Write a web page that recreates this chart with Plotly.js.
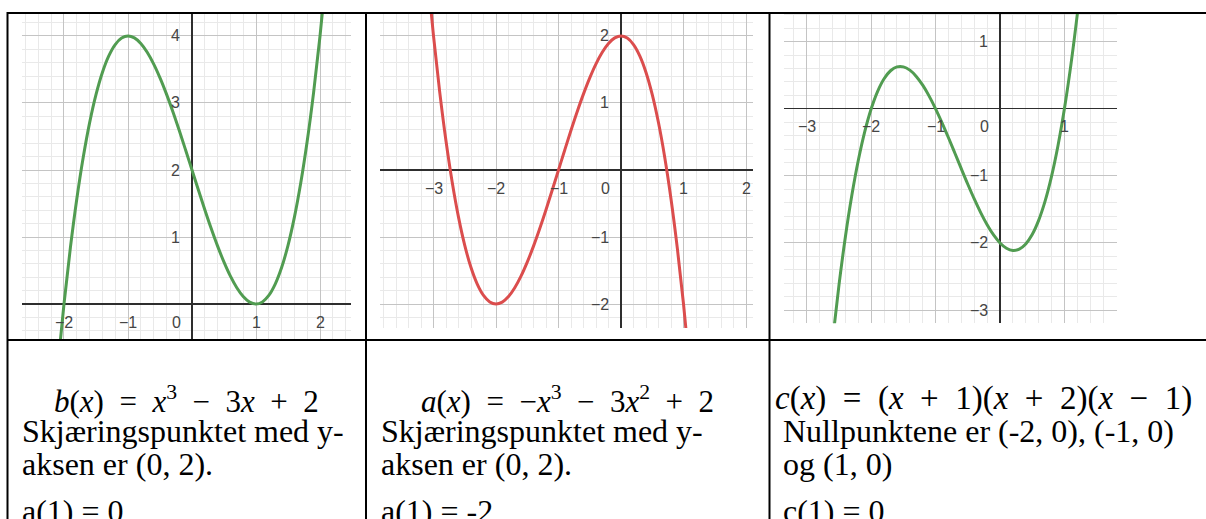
<!DOCTYPE html>
<html>
<head>
<meta charset="utf-8">
<script src="https://cdn.plot.ly/plotly-3.0.1.min.js"></script>
<style>
  html, body { margin: 0; padding: 0; background: #ffffff; }
  #chart { width: 1206px; height: 519px; }
</style>
</head>
<body>
<div id="chart"></div>
<script>
// ---------- data ----------
const bX = [-2.2,-2.1,-2.0,-1.9,-1.8,-1.7,-1.6,-1.5,-1.4,-1.3,-1.2,-1.1,-1.0,-0.9,-0.8,-0.7,-0.6,-0.5,-0.4,-0.3,-0.2,-0.1,0,0.1,0.2,0.3,0.4,0.5,0.6,0.7,0.8,0.9,1.0,1.1,1.2,1.3,1.4,1.5,1.6,1.7,1.8,1.9,2.0,2.1,2.2];
const bY = [-2.048,-0.961,0,0.841,1.568,2.187,2.704,3.125,3.456,3.703,3.872,3.969,4,3.971,3.888,3.757,3.584,3.375,3.136,2.873,2.592,2.299,2,1.701,1.408,1.127,0.864,0.625,0.416,0.243,0.112,0.029,0,0.031,0.128,0.297,0.544,0.875,1.296,1.813,2.432,3.159,4,4.961,6.048];

const aX = [-3.2,-3.1,-3.0,-2.9,-2.8,-2.7,-2.6,-2.5,-2.4,-2.3,-2.2,-2.1,-2.0,-1.9,-1.8,-1.7,-1.6,-1.5,-1.4,-1.3,-1.2,-1.1,-1.0,-0.9,-0.8,-0.7,-0.6,-0.5,-0.4,-0.3,-0.2,-0.1,0,0.1,0.2,0.3,0.4,0.5,0.6,0.7,0.8,0.9,1.0,1.1,1.2];
const aY = [4.048,2.961,2,1.159,0.432,-0.187,-0.704,-1.125,-1.456,-1.703,-1.872,-1.969,-2,-1.971,-1.888,-1.757,-1.584,-1.375,-1.136,-0.873,-0.592,-0.299,0,0.299,0.592,0.873,1.136,1.375,1.584,1.757,1.888,1.971,2,1.969,1.872,1.703,1.456,1.125,0.704,0.187,-0.432,-1.159,-2,-2.961,-4.048];

const cX = [-2.8,-2.7,-2.6,-2.5,-2.4,-2.3,-2.2,-2.1,-2.0,-1.9,-1.8,-1.7,-1.6,-1.5,-1.4,-1.3,-1.2,-1.1,-1.0,-0.9,-0.8,-0.7,-0.6,-0.5,-0.4,-0.3,-0.2,-0.1,0,0.1,0.2,0.3,0.4,0.5,0.6,0.7,0.8,0.9,1.0,1.1,1.2,1.3];
const cY = [-5.472,-4.403,-3.456,-2.625,-1.904,-1.287,-0.768,-0.341,0,0.261,0.448,0.567,0.624,0.625,0.576,0.483,0.352,0.189,0,-0.209,-0.432,-0.663,-0.896,-1.125,-1.344,-1.547,-1.728,-1.881,-2,-2.079,-2.112,-2.093,-2.016,-1.875,-1.664,-1.377,-1.008,-0.551,0,0.651,1.408,2.277];

const bTicksX = [-2, -1, 0, 1, 2];
const bTicksY = [1, 2, 3, 4];
const aTicksX = [-3, -2, -1, 0, 1, 2];
const aTicksY = [-2, -1, 1, 2];
const cTicksX = [-3, -2, -1, 0, 1];
const cTicksY = [-3, -2, -1, 1];

const bFormula = "<i>b</i>(<i>x</i>)\u2002=\u2002<i>x</i><sup>3</sup>\u2002\u2212\u20023<i>x</i>\u2002+\u20022";
const aFormula = "<i>a</i>(<i>x</i>)\u2002=\u2002\u2212<i>x</i><sup>3</sup>\u2002\u2212\u20023<i>x</i><sup>2</sup>\u2002+\u20022";
const cFormula = "<i>c</i>(<i>x</i>)\u2002=\u2002(<i>x</i>\u2002+\u20021)(<i>x</i>\u2002+\u20022)(<i>x</i>\u2002\u2212\u20021)";
const bLines = ["Skjæringspunktet med y-", "aksen er (0, 2).", "a(1) = 0"];
const aLines = ["Skjæringspunktet med y-", "aksen er (0, 2).", "a(1) = -2"];
const cLines = ["Nullpunktene er (-2, 0), (-1, 0)", "og (1, 0)", "c(1) = 0"];

// ---------- layout helpers ----------
const W = 1206, H = 519;
const fx = p => p / W;
const fy = p => 1 - p / H;

const GREEN = "#519c51";
const RED = "#db4d4d";

function axis(dom, rng, anchor) {
  return {
    domain: dom, range: rng, anchor: anchor,
    tick0: 0, dtick: 1, showgrid: true, gridcolor: "#c4c4c4", gridwidth: 1,
    minor: { dtick: 0.2, tick0: 0, showgrid: true, gridcolor: "#e9e9e9", gridwidth: 1, ticks: "" },
    zeroline: true, zerolinecolor: "#2e2e2e", zerolinewidth: 1.4,
    showticklabels: false, ticks: "", showline: false, fixedrange: true
  };
}

const traces = [
  { x: bX, y: bY, xaxis: "x", yaxis: "y", mode: "lines", line: { color: GREEN, width: 3, shape: "spline" }, hoverinfo: "skip" },
  { x: aX, y: aY, xaxis: "x2", yaxis: "y2", mode: "lines", line: { color: RED, width: 3, shape: "spline" }, hoverinfo: "skip" },
  { x: cX, y: cY, xaxis: "x3", yaxis: "y3", mode: "lines", line: { color: GREEN, width: 3, shape: "spline" }, hoverinfo: "skip" }
];

const annotations = [];
const tickFont = { family: "Liberation Sans, Arial, sans-serif", size: 16, color: "#454545" };
const lab = v => String(v).replace("-", "\u2212");
function tickLabels(xs, ys, xr, yr) {
  xs.forEach(v => {
    if (v === 0) {
      annotations.push({ x: 0, y: 0, xref: xr, yref: yr, text: "0", showarrow: false, xanchor: "right", yanchor: "middle", xshift: -10, yshift: -18, font: tickFont, borderpad: 0 });
    } else {
      annotations.push({ x: v, y: 0, xref: xr, yref: yr, text: lab(v), showarrow: false, xanchor: "center", yanchor: "middle", yshift: -18, font: tickFont, borderpad: 0 });
    }
  });
  ys.forEach(v => {
    annotations.push({ x: 0, y: v, xref: xr, yref: yr, text: lab(v), showarrow: false, xanchor: "right", yanchor: "middle", xshift: -11, font: tickFont, borderpad: 0 });
  });
}
tickLabels(bTicksX, bTicksY, "x", "y");
tickLabels(aTicksX, aTicksY, "x2", "y2");
tickLabels(cTicksX, cTicksY, "x3", "y3");

const textFont = { family: "Liberation Serif, Times New Roman, serif", size: 32, color: "#000000" };
const baselines = [442, 475, 522];
const FORMULA_BASE = 410;
function cellText(formula, fsize, lines, left, center) {
  const mf = { family: "Liberation Serif, Times New Roman, serif", size: fsize, color: "#000000" };
  annotations.push({ x: fx(center), y: fy(FORMULA_BASE - 0.34 * fsize), xref: "paper", yref: "paper", text: formula, showarrow: false, xanchor: "center", yanchor: "middle", font: mf, borderpad: 0, borderwidth: 0 });
  lines.forEach((t, i) => {
    annotations.push({ x: fx(left), y: fy(baselines[i] - 0.34 * textFont.size), xref: "paper", yref: "paper", text: t, showarrow: false, xanchor: "left", yanchor: "middle", font: textFont, borderpad: 0, borderwidth: 0 });
  });
}
cellText(bFormula, 31, bLines, 22, 186);
cellText(aFormula, 31, aLines, 381, 567);
cellText(cFormula, 33, cLines, 783, 983);

const lineStyle = { color: "#000000", width: 2 };
const shapes = [
  { type: "line", xref: "paper", yref: "paper", x0: fx(7), x1: 1.01, y0: fy(13), y1: fy(13), line: lineStyle },
  { type: "line", xref: "paper", yref: "paper", x0: fx(7), x1: 1.01, y0: fy(340), y1: fy(340), line: lineStyle },
  { type: "line", xref: "paper", yref: "paper", x0: fx(7.5), x1: fx(7.5), y0: fy(12), y1: -0.02, line: lineStyle },
  { type: "line", xref: "paper", yref: "paper", x0: fx(366), x1: fx(366), y0: fy(12), y1: -0.02, line: lineStyle },
  { type: "line", xref: "paper", yref: "paper", x0: fx(769.5), x1: fx(769.5), y0: fy(12), y1: -0.02, line: lineStyle }
];

const layout = {
  width: W, height: H,
  margin: { l: 0, r: 0, t: 0, b: 0 },
  paper_bgcolor: "#ffffff", plot_bgcolor: "#ffffff",
  showlegend: false,
  xaxis: axis([fx(22), fx(351)], [-2.656, 2.484], "y"),
  yaxis: axis([fy(340), fy(13)], [-0.537, 4.343], "x"),
  xaxis2: axis([fx(380), fx(752.7)], [-3.856, 2.107], "y2"),
  yaxis2: axis([fy(328), fy(13)], [-2.358, 2.343], "x2"),
  xaxis3: axis([fx(784), fx(1116.7)], [-3.354, 1.812], "y3"),
  yaxis3: axis([fy(323.3), fy(13)], [-3.198, 1.428], "x3"),
  annotations: annotations,
  shapes: shapes
};

Plotly.newPlot("chart", traces, layout, { staticPlot: true, displayModeBar: false });
</script>
</body>
</html>
